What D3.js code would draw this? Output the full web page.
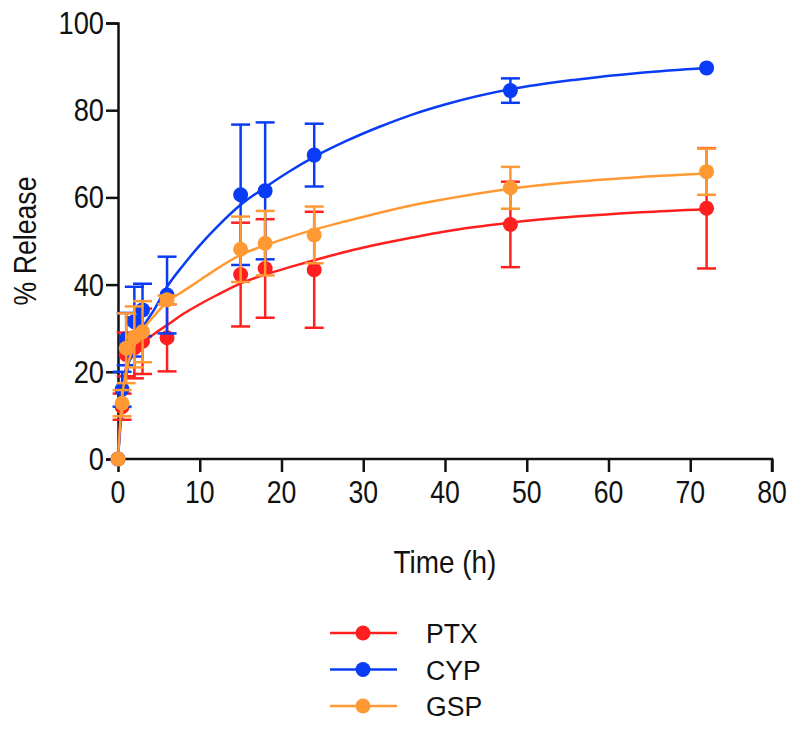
<!DOCTYPE html>
<html>
<head>
<meta charset="utf-8">
<script src="https://cdn.jsdelivr.net/npm/d3@7"></script>
<style>
  body { margin: 0; background: #fff; }
  text { font-family: "Liberation Sans", Arial, sans-serif; fill: #111; }
</style>
</head>
<body>
<svg id="chart" width="800" height="729"></svg>
<script>
// sampling times (h)
var times = [0, 0.5, 1, 2, 3, 6, 15, 18, 24, 48, 72];

// mean % release and SD for each formulation
var ptxMean = [0, 12, 24, 25.5, 27, 27.8, 42.3, 43.7, 43.4, 53.8, 57.5];
var ptxSd   = [0, 3, 5, 7, 7.5, 7.7, 11.9, 11.3, 13.3, 9.8, 13.8];
var cypMean = [0, 16, 27.5, 31.5, 34.2, 37.6, 60.6, 61.5, 69.7, 84.5, 89.7];
var cypSd   = [0, 4, 6, 8, 6, 8.8, 16.1, 15.7, 7.2, 2.8, 0];
var gspMean = [0, 12.8, 25.4, 28, 29.2, 36.5, 48.1, 49.5, 51.4, 62.2, 65.9];
var gspSd   = [0, 3, 8, 7, 7, 1, 7.5, 7.4, 6.5, 4.8, 5.3];

// fitted release curves
var fitTimes = [0, 0.5, 1, 2, 3, 4.5, 6, 8, 10, 12, 15, 18, 21, 24, 28, 32, 36, 40, 48, 56, 64, 72];
var ptxFit = [0, 14, 21, 24.5, 26.5, 28.8, 30.7, 33.3, 35.5, 37.5, 40.3, 42.3, 44, 45.6, 47.6, 49.3, 50.8, 52.2, 54.2, 55.6, 56.6, 57.3];
var cypFit = [0, 12, 19, 26, 30, 34.5, 39.5, 44.5, 49, 53, 58.3, 62.3, 66, 69.3, 73, 76.2, 79, 81.3, 84.8, 87, 88.6, 89.7];
var gspFit = [0, 14, 20, 26, 29.5, 33, 36, 38.5, 41, 43.5, 46.8, 49, 50.9, 52.6, 54.6, 56.5, 58.2, 59.6, 62, 63.6, 64.7, 65.5];

var xTicks = [0, 10, 20, 30, 40, 50, 60, 70, 80];
var yTicks = [0, 20, 40, 60, 80, 100];

var seriesNames = ["PTX", "CYP", "GSP"];
var seriesColors = ["#ff1f1f", "#0a3cf5", "#ff9933"];

var series = [
    { name: "PTX", mean: ptxMean, sd: ptxSd, fit: ptxFit },
    { name: "CYP", mean: cypMean, sd: cypSd, fit: cypFit },
    { name: "GSP", mean: gspMean, sd: gspSd, fit: gspFit }
];

var svg = d3.select("#chart");

var x = d3.scaleLinear().domain([0, 80]).range([118, 772]);
var y = d3.scaleLinear().domain([0, 100]).range([459, 23]);
var color = d3.scaleOrdinal().domain(seriesNames).range(seriesColors);

// text is slightly condensed in the original
function label(g, tx, ty, str, anchor, size, sx) {
    return g.append("text")
        .attr("transform", "translate(" + tx + "," + ty + ") scale(" + sx + ",1)")
        .attr("text-anchor", anchor)
        .style("font-size", size + "px")
        .text(str);
}

// axes
var xAxis = svg.append("g")
    .attr("transform", "translate(0," + y(0) + ")")
    .call(d3.axisBottom(x).tickValues(xTicks).tickSize(13).tickFormat(""));
var yAxis = svg.append("g")
    .attr("transform", "translate(" + x(0) + ",0)")
    .call(d3.axisLeft(y).tickValues(yTicks).tickSize(12).tickFormat(""));

[xAxis, yAxis].forEach(function (a) {
    a.select(".domain").attr("stroke", "#111").attr("stroke-width", 2.5);
    a.selectAll(".tick line").attr("stroke", "#111").attr("stroke-width", 2.5);
});
xAxis.select(".domain").attr("d", "M" + x(0) + ",0H" + x(80) + "V13");

xTicks.forEach(function (t) {
    label(svg, x(t), 503, t, "middle", 31, 0.86);
});
yTicks.forEach(function (t) {
    label(svg, 104, y(t) + 11, t, "end", 31, 0.88);
});

label(svg, 445, 573, "Time (h)", "middle", 31, 0.9);
svg.append("text")
    .attr("transform", "translate(36," + 241 + ") rotate(-90) scale(0.86,1)")
    .attr("text-anchor", "middle")
    .style("font-size", "31px")
    .text("% Release");

// data
var line = d3.line()
    .x(function (d) { return x(d[0]); })
    .y(function (d) { return y(d[1]); })
    .curve(d3.curveMonotoneX);

series.forEach(function (s) {
    var c = color(s.name);
    var g = svg.append("g");
    var pts = times.map(function (t, i) { return { t: t, m: s.mean[i], sd: s.sd[i] }; });

    var bars = g.selectAll(".err").data(pts.filter(function (p) { return p.sd > 0; }))
        .enter().append("g").attr("stroke", c).attr("stroke-width", 2.5);
    bars.append("line")
        .attr("x1", function (p) { return x(p.t); })
        .attr("x2", function (p) { return x(p.t); })
        .attr("y1", function (p) { return y(p.m - p.sd); })
        .attr("y2", function (p) { return y(p.m + p.sd); });
    [1, -1].forEach(function (k) {
        bars.append("line")
            .attr("x1", function (p) { return x(p.t) - 9.5; })
            .attr("x2", function (p) { return x(p.t) + 9.5; })
            .attr("y1", function (p) { return y(p.m + k * p.sd); })
            .attr("y2", function (p) { return y(p.m + k * p.sd); });
    });

    g.append("path")
        .datum(fitTimes.map(function (t, i) { return [t, s.fit[i]]; }))
        .attr("d", line)
        .attr("fill", "none")
        .attr("stroke", c)
        .attr("stroke-width", 2.5);

    g.selectAll("circle").data(pts).enter().append("circle")
        .attr("cx", function (p) { return x(p.t); })
        .attr("cy", function (p) { return y(p.m); })
        .attr("r", 7.5)
        .attr("fill", c);
});

// legend
var legend = svg.append("g");
seriesNames.forEach(function (n, i) {
    var ly = 633 + i * 36.5;
    legend.append("line")
        .attr("x1", 330).attr("x2", 397)
        .attr("y1", ly).attr("y2", ly)
        .attr("stroke", color(n)).attr("stroke-width", 2.5);
    legend.append("circle")
        .attr("cx", 363).attr("cy", ly).attr("r", 7.5)
        .attr("fill", color(n));
    label(legend, 426, ly + 10, n, "start", 28, 0.95);
});
</script>
</body>
</html>
